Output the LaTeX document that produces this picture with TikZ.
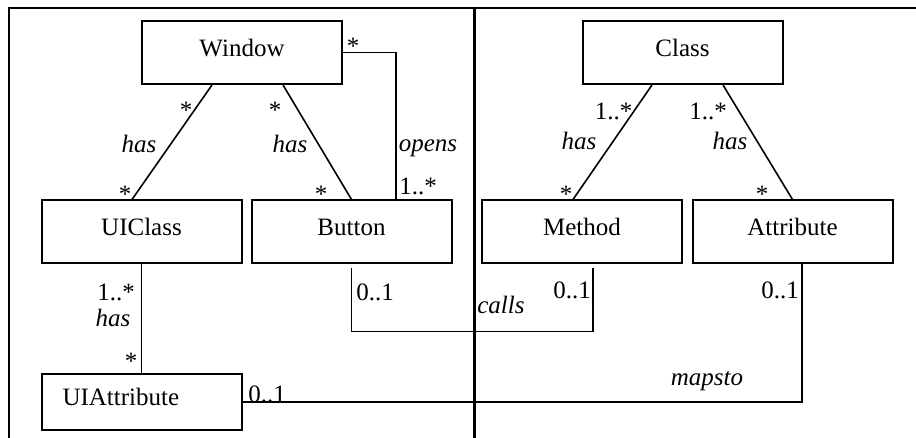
\documentclass[tikz,border=0pt]{standalone}
\usepackage{fontspec}
\setmainfont{Liberation Serif}
\usetikzlibrary{positioning}

\begin{document}
\begin{tikzpicture}[x=0.5pt, y=-0.5pt, font=\fontsize{12.5}{15}\selectfont,
        cls/.style={draw, line width=1pt, minimum width=100pt, minimum height=31.5pt,
            inner sep=0pt, text height=8.5pt, text depth=4.5pt},
        assoc/.style={line width=0.8pt},
        mult/.style={anchor=base, inner sep=0pt},
        role/.style={anchor=base, inner sep=0pt, font=\fontsize{12.5}{15}\selectfont\itshape}]
    \useasboundingbox (0,0) rectangle (916,438);

    % frame and divider
    \draw[line width=1pt] (9,438) -- (9,8) -- (916,8);
    \draw[line width=1.5pt] (474,8) -- (474,438);

    % UI side
    \node[cls] (win) at (242,52.5) {Window};
    \node[cls] (uic) at (141.5,232) {UIClass};
    \node[cls] (btn) at (351.5,232) {Button};
    \node[cls, minimum height=28pt, text width=79pt, align=left, inner xsep=10.5pt] (uia) at (141.5,402) {UIAttribute};
    % model side
    \node[cls] (cls) at (682.5,52.5) {Class};
    \node[cls] (met) at (582,232) {Method};
    \node[cls] (att) at (792.5,232) {Attribute};

    % associations
    \draw[assoc] ([xshift=-15pt]win.south) -- ([xshift=-4.75pt]uic.north);
    \draw[assoc] ([xshift=20.5pt]win.south) -- (btn.north);
    \draw[assoc] (win.east) -| ([xshift=22.25pt]btn.north);
    \draw[assoc] (uic) -- (uia);
    \draw[assoc] ([xshift=-15.25pt]cls.south) -- ([xshift=-4.5pt]met.north);
    \draw[assoc] ([xshift=20.25pt]cls.south) -- (att.north);
    \draw[assoc] ([yshift=-2pt]btn.south) -- ++(0,63) -| ([xshift=5.5pt,yshift=-2pt]met.south);
    \draw[assoc] (uia.east) -| ([xshift=4.75pt]att.south);

    % multiplicities and roles
    \node[mult] (wu-top) at (186,119) {*};
    \node[role] (wu-has) at (139,153) {has};
    \node[mult] (wu-bot) at (125,203) {*};
    \node[mult] (wb-top) at (275,119) {*};
    \node[role] (wb-has) at (290,153) {has};
    \node[mult] (wb-bot) at (321,203) {*};
    \node[mult] (wo-top) at (353,55) {*};
    \node[role] (wo-opens) at (428,152) {opens};
    \node[mult] (wo-bot) at (418,195) {1..*};
    \node[mult] (cm-top) at (613.5,120) {1..*};
    \node[role] (cm-has) at (579,150) {has};
    \node[mult] (cm-bot) at (566,203) {*};
    \node[mult] (ca-top) at (708,120) {1..*};
    \node[role] (ca-has) at (730,150) {has};
    \node[mult] (ca-bot) at (762,203) {*};
    \node[mult] (ua-top) at (116,300) {1..*};
    \node[role] (ua-has) at (113,327) {has};
    \node[mult] (ua-bot) at (131,370) {*};
    \node[mult] (bm-btn) at (375,300) {0..1};
    \node[role] (bm-calls) at (501,314) {calls};
    \node[mult] (bm-met) at (572,299) {0..1};
    \node[mult] (ma-att) at (780,299) {0..1};
    \node[role] (ma-mapsto) at (707,386) {mapsto};
    \node[mult] (ma-uia) at (267,402) {0..1};
\end{tikzpicture}
\end{document}
